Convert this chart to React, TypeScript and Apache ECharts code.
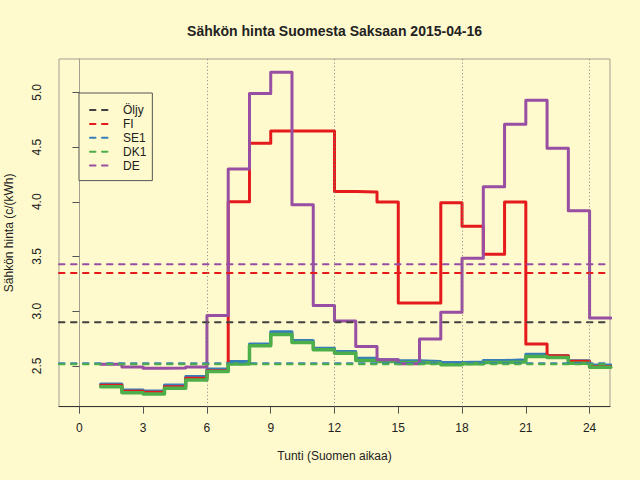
import React, { useEffect, useRef } from "react";
import * as echarts from "echarts";

const hours = [1, 2, 3, 4, 5, 6, 7, 8, 9, 10, 11, 12, 13, 14, 15, 16, 17, 18, 19, 20, 21, 22, 23, 24];
const FI = [2.322, 2.268, 2.258, 2.31, 2.388, 2.455, 4.0, 4.535, 4.648, 4.648, 4.648, 4.095, 4.089, 3.997, 3.075, 3.075, 3.991, 3.777, 3.52, 3.997, 2.7, 2.592, 2.543, 2.494];
const SE1 = [2.335, 2.28, 2.271, 2.326, 2.402, 2.472, 2.54, 2.699, 2.812, 2.732, 2.662, 2.632, 2.57, 2.555, 2.546, 2.54, 2.53, 2.535, 2.549, 2.555, 2.607, 2.592, 2.546, 2.509];
const DK1 = [2.31, 2.255, 2.243, 2.295, 2.372, 2.448, 2.518, 2.683, 2.787, 2.714, 2.647, 2.616, 2.549, 2.54, 2.53, 2.525, 2.51, 2.52, 2.53, 2.535, 2.585, 2.576, 2.525, 2.488];
const DE = [2.515, 2.49, 2.478, 2.48, 2.49, 2.96, 4.3, 4.99, 5.183, 3.973, 3.053, 2.91, 2.677, 2.555, 2.52, 2.745, 2.99, 3.484, 4.138, 4.709, 4.929, 4.489, 3.918, 2.937];

const avgNames = ["Öljy", "FI", "SE1", "DK1", "DE"];
const avgValues = [2.9, 3.35, 2.525, 2.515, 3.43];

const xTicks = [0, 3, 6, 9, 12, 15, 18, 21, 24];
const yTicks = [2.5, 3.0, 3.5, 4.0, 4.5, 5.0];
const dayMarks = [6, 12, 18, 24];

const X_MIN = -0.96;
const X_MAX = 24.96;
const Y_MIN = 2.127;
const Y_MAX = 5.305;

const COLORS: Record<string, string> = {
  "Öljy": "#404040",
  FI: "#E41A1C",
  SE1: "#377EB8",
  DK1: "#4DAF4A",
  DE: "#984EA3",
};

const FONT = "Liberation Sans";
const TEXT = "#222";

function stepData(vals: number[]) {
  const pts = hours.map((h, i) => [h, vals[i]]);
  pts.push([hours[hours.length - 1] + 1, vals[vals.length - 1]]);
  return pts;
}

export default function App() {
  const ref = useRef<HTMLDivElement>(null);
  useEffect(() => {
    document.body.style.margin = "0";
    const chart = echarts.init(ref.current!, null, { renderer: "svg" });
    const dash = [5.5, 6.5];
    const stepSeries = [
      { name: "SE1", vals: SE1, w: 3 },
      { name: "FI", vals: FI, w: 3 },
      { name: "DK1", vals: DK1, w: 3.5 },
      { name: "DE", vals: DE, w: 3 },
    ].map((s, idx) => ({
      type: "line",
      name: s.name,
      step: "end",
      symbol: "none",
      silent: true,
      data: stepData(s.vals),
      lineStyle: { color: COLORS[s.name], width: s.w, cap: "round", join: "round" },
      itemStyle: { color: COLORS[s.name] },
      ...(idx === 0
        ? {
            markLine: {
              silent: true,
              symbol: ["none", "none"],
              label: { show: false },
              lineStyle: { color: "#808080", type: [1, 2.5], width: 1 },
              data: dayMarks.map((d) => ({ xAxis: d })),
            },
          }
        : {}),
    }));
    const avgSeries = avgNames.map((n, i) => ({
      type: "line",
      name: n,
      symbol: "none",
      silent: true,
      data: [
        [X_MIN, avgValues[i]],
        [X_MAX, avgValues[i]],
      ],
      lineStyle: { color: COLORS[n], width: 2, type: dash, cap: "round" },
      itemStyle: { color: COLORS[n] },
    }));
    chart.setOption({
      animation: false,
      backgroundColor: "#FFFACD",
      textStyle: { fontFamily: FONT },
      title: {
        text: "Sähkön hinta Suomesta Saksaan 2015-04-16",
        left: 334.5,
        top: 24,
        padding: 0,
        textAlign: "center",
        textStyle: { fontFamily: FONT, fontSize: 14, fontWeight: "bold", color: TEXT },
      },
      legend: {
        orient: "vertical",
        left: 79,
        top: 93,
        padding: [11, 6, 9, 10],
        itemWidth: 20,
        itemHeight: 10,
        itemGap: 1.9,
        borderColor: "#555",
        borderWidth: 1,
        borderRadius: 0,
        backgroundColor: "#FFFACD",
        selectedMode: false,
        textStyle: { fontFamily: FONT, fontSize: 12, color: TEXT, padding: [0, 0, 0, 8] },
        itemStyle: { color: "rgba(0,0,0,0)", borderWidth: 0, opacity: 0 },
        lineStyle: { width: 2, type: dash, cap: "round" },
        data: avgNames.map((n) => ({
          name: n,
          itemStyle: { color: "rgba(0,0,0,0)", borderWidth: 0, opacity: 0 },
          lineStyle: { color: COLORS[n], width: 2, type: dash, cap: "round" },
        })),
      },
      grid: {
        left: 59,
        right: 30,
        top: 59,
        bottom: 73.3,
        show: true,
        outerBoundsMode: "none",
        containLabel: false,
        borderColor: "#a39f8f",
        borderWidth: 1,
        backgroundColor: "transparent",
      },
      xAxis: {
        type: "value",
        min: X_MIN,
        max: X_MAX,
        name: "Tunti (Suomen aikaa)",
        nameLocation: "middle",
        nameGap: 43,
        nameTextStyle: { fontFamily: FONT, fontSize: 12, color: TEXT },
        axisLine: { show: true, lineStyle: { color: "#333", width: 1 } },
        axisTick: { show: true, length: 7, lineStyle: { color: "#555" }, customValues: xTicks },
        axisLabel: { fontFamily: FONT, fontSize: 12, color: TEXT, margin: 15, customValues: xTicks },
        splitLine: { show: false },
      },
      yAxis: {
        type: "value",
        min: Y_MIN,
        max: Y_MAX,
        name: "Sähkön hinta (c/(kWh)",
        nameLocation: "middle",
        nameGap: 44,
        nameTextStyle: { fontFamily: FONT, fontSize: 12, color: TEXT },
        axisLine: { show: true, lineStyle: { color: "#a39f8f", width: 1 } },
        axisTick: { show: true, length: 7, lineStyle: { color: "#555" }, customValues: yTicks },
        axisLabel: {
          fontFamily: FONT,
          fontSize: 12,
          color: TEXT,
          margin: 16,
          rotate: 90,
          customValues: yTicks,
          formatter: (v: number) => v.toFixed(1),
        },
        splitLine: { show: false },
      },
      series: [...stepSeries, ...avgSeries],
    });
    return () => chart.dispose();
  }, []);
  return <div ref={ref} style={{ width: 640, height: 480, position: "absolute", left: 0, top: 0 }} />;
}
